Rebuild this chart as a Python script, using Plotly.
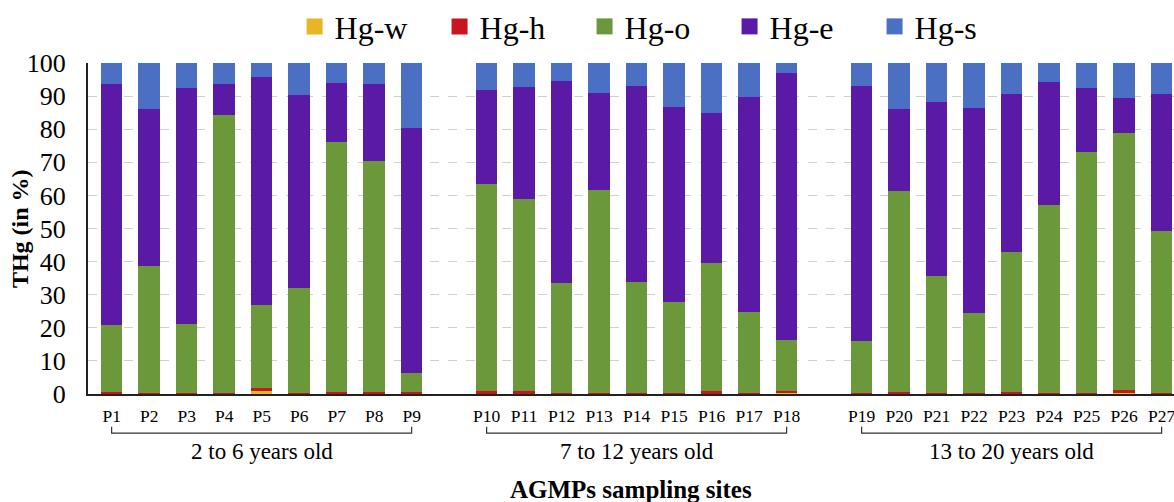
import plotly.graph_objects as go

sites = [f"P{i}" for i in range(1, 28)]
groups = ["2 to 6 years old", "7 to 12 years old", "13 to 20 years old"]
group_of_site = [0] * 9 + [1] * 9 + [2] * 9

hg_w = [0.1, 0.1, 0.1, 0.1, 0.8, 0.1, 0.1, 0.1, 0.1,
        0.1, 0.1, 0.1, 0.1, 0.1, 0.1, 0.1, 0.1, 0.4,
        0.1, 0.1, 0.1, 0.1, 0.1, 0.1, 0.1, 0.2, 0.1]
hg_h = [0.5, 0.3, 0.2, 0.3, 0.9, 0.2, 0.4, 0.4, 0.5,
        0.7, 0.7, 0.2, 0.3, 0.2, 0.3, 0.9, 0.2, 0.6,
        0.2, 0.5, 0.3, 0.3, 0.6, 0.3, 0.3, 1.0, 0.2]
hg_o = [20.2, 38.4, 20.8, 84.0, 25.1, 31.6, 75.6, 69.8, 5.8,
        62.6, 58.1, 33.2, 61.2, 33.5, 27.5, 38.7, 24.6, 15.2,
        15.7, 60.6, 35.3, 24.0, 42.3, 56.7, 72.7, 77.7, 48.9]
hg_e = [72.8, 47.2, 71.2, 9.2, 69.0, 58.4, 18.0, 23.5, 74.1,
        28.5, 34.0, 61.1, 29.4, 59.4, 58.8, 45.2, 64.8, 80.7,
        77.0, 24.9, 52.5, 62.1, 47.5, 37.1, 19.4, 10.5, 41.3]
hg_s = [6.4, 14.0, 7.7, 6.4, 4.2, 9.7, 5.9, 6.2, 19.5,
        8.1, 7.1, 5.4, 9.0, 6.8, 13.3, 15.1, 10.3, 3.1,
        7.0, 13.9, 11.8, 13.5, 9.5, 5.8, 7.5, 10.6, 9.5]

series = [("Hg-w", hg_w, "#E6B625"), ("Hg-h", hg_h, "#C8161E"),
          ("Hg-o", hg_o, "#6B983B"), ("Hg-e", hg_e, "#5A1AA5"),
          ("Hg-s", hg_s, "#4A6FC3")]

# one empty slot between age groups
xpos = [i + g for i, g in enumerate(group_of_site)]

FONT = "Liberation Serif"
fig = go.Figure()
for name, vals, col in series:
    fig.add_trace(go.Bar(x=xpos, y=vals, name=name, legendgroup=name, showlegend=False,
                         marker=dict(color=col, line=dict(width=0))))
# legend entries with larger square swatches
for name, vals, col in series:
    fig.add_trace(go.Scatter(x=[None], y=[None], mode="markers", name=name, legendgroup=name,
                             marker=dict(symbol="square", size=16, color=col), showlegend=True))

fig.update_layout(
    barmode="stack", bargap=0.43,
    width=1174, height=502,
    margin=dict(l=88, r=0, t=63, b=108, autoexpand=False),
    plot_bgcolor="white", paper_bgcolor="white",
    font=dict(family=FONT, color="black"),
    legend=dict(orientation="h", x=0.524, xanchor="center", y=1.11, yanchor="middle",
                font=dict(size=32, family=FONT), entrywidth=100, traceorder="normal",
                itemsizing="trace"),
    showlegend=True,
)
fig.update_xaxes(range=[-0.63, 28.33], tickvals=xpos, ticktext=sites,
                 tickfont=dict(size=17.5, family=FONT), ticks="", ticklabelstandoff=5,
                 ticklabeloverflow="allow",
                 showline=True, linecolor="#222222", linewidth=2, showgrid=False, zeroline=False)
fig.update_yaxes(range=[0, 100], dtick=10, tickfont=dict(size=26, family=FONT),
                 ticks="", ticklabelstandoff=15,
                 showline=True, linecolor="#222222", linewidth=2,
                 showgrid=True, gridcolor="#D0D0D0", griddash="dash", gridwidth=1, zeroline=False)

# group brackets and labels
for gi, gname in enumerate(groups):
    xs = [xpos[i] for i in range(27) if group_of_site[i] == gi]
    x0, x1 = xs[0], xs[-1]
    fig.add_shape(type="path", xref="x", yref="paper",
                  path=f"M{x0},-0.099 L{x0},-0.118 L{x1},-0.118 L{x1},-0.099",
                  line=dict(color="#333333", width=1.2))
    fig.add_annotation(x=(x0 + x1) / 2, y=-0.175, xref="x", yref="paper", text=gname,
                       showarrow=False, font=dict(size=23, family=FONT), yanchor="middle")

fig.add_annotation(x=0.5, xref="paper", y=-0.29, yref="paper", text="<b>AGMPs sampling sites</b>",
                   showarrow=False, font=dict(size=25, family=FONT), yanchor="middle")
fig.add_annotation(x=-0.063, xref="paper", y=0.5, yref="paper", text="<b>THg (in %)</b>",
                   textangle=-90, showarrow=False, font=dict(size=24, family=FONT),
                   xanchor="center", yanchor="middle")

fig.write_html("out.html", config={"displayModeBar": False},
               post_script="document.body.style.margin='0';document.body.style.overflow='hidden';")
